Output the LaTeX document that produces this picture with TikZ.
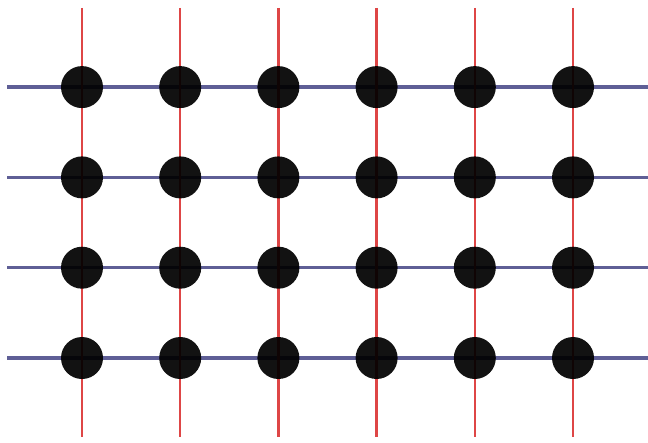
\documentclass[tikz,border=0pt]{standalone}
\definecolor{gridred}{RGB}{222,70,70}
\definecolor{gridblue}{RGB}{95,95,150}
\begin{document}
\begin{tikzpicture}[line cap=butt,
		redline/.style={gridred, line width=0.7pt},
		blueline/.style={gridblue, line width=0.95pt},
		site/.style={circle, fill=black, fill opacity=0.93, inner sep=0pt, minimum size=0.42cm}]
	\def\dx{0.982} \def\dy{0.903} % khoang cach luoi
	\def\xo{0.82} \def\yo{0.84}
	\useasboundingbox (0,0) rectangle (6.48,4.42);
	% duong ngang
	\foreach \j in {1,...,4} {
		\coordinate (l\j) at (0.07,{\yo+(\j-1)*\dy});
		\coordinate (r\j) at (6.48,{\yo+(\j-1)*\dy});
		\draw[blueline] (l\j) -- (r\j);
	}
	% duong doc
	\foreach \i in {1,...,6} {
		\coordinate (t\i) at ({\xo+(\i-1)*\dx},4.34);
		\coordinate (b\i) at ({\xo+(\i-1)*\dx},0.05);
		\draw[redline] (t\i) -- (b\i);
	}
	% cac nut
	\foreach \i in {1,...,6}
		\foreach \j in {1,...,4}
			\node[site] (p\i\j) at ({\xo+(\i-1)*\dx},{\yo+(\j-1)*\dy}) {};
\end{tikzpicture}
\end{document}
